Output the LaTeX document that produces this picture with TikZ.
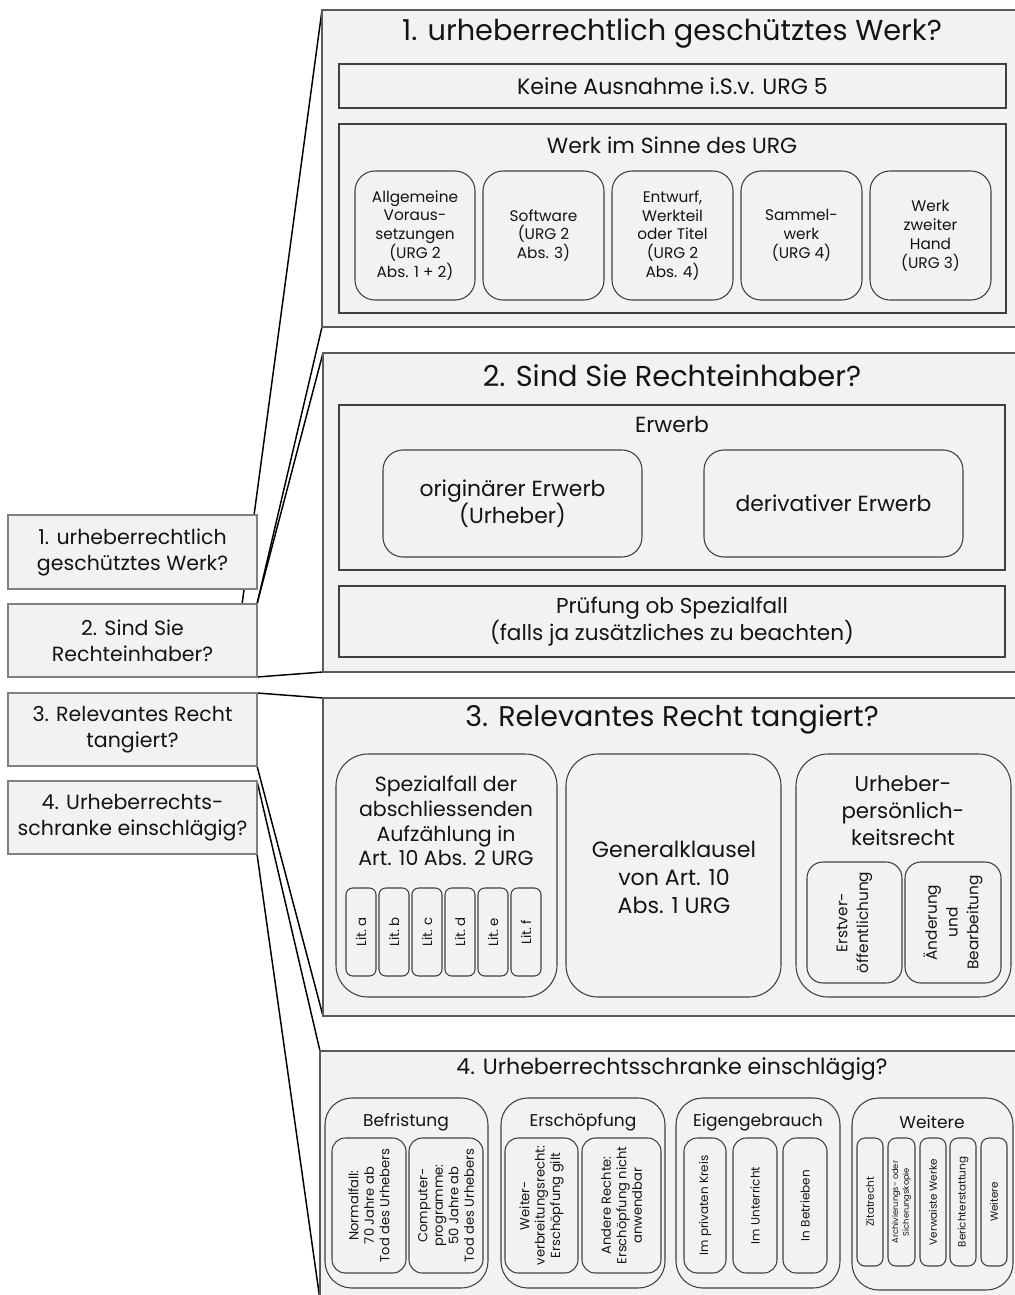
\documentclass[tikz,border=0pt]{standalone}
\usepackage{fontspec}
\setmainfont{Poppins}
\usetikzlibrary{fit,backgrounds}

\definecolor{pfill}{HTML}{F2F2F2}
\definecolor{pborder}{HTML}{5A5A5A}
\definecolor{bborder}{HTML}{404040}
\definecolor{lborder}{HTML}{808080}
\definecolor{tcol}{HTML}{141414}

\newcommand{\fs}[2]{\fontsize{#1}{#2}\selectfont}

\tikzset{
  panel/.style={draw=pborder, fill=pfill, line width=1.1pt, inner sep=0pt, outer sep=0pt},
  sqbox/.style={draw=bborder, line width=0.9pt, inner sep=0pt, outer sep=0pt},
  rbox/.style={draw=bborder, line width=0.8pt, rounded corners=#1, inner sep=0pt, outer sep=0pt},
  rbox/.default=14pt,
  leftbox/.style={draw=lborder, fill=pfill, line width=0.9pt, inner sep=0pt, outer sep=0pt},
  link/.style={draw=black, line width=1.1pt},
  txt/.style={align=center, inner sep=0pt, text=tcol},
  vtxt/.style={txt, rotate=90},
}

\begin{document}
\begin{tikzpicture}[x=0.75pt,y=-0.75pt]
\useasboundingbox (0,0) rectangle (1014,1295);

% ---------- panels ----------
\node[panel, fit={(322,10)(1020,327)}]   (p1) {};
\node[panel, fit={(323,353)(1020,672)}]  (p2) {};
\node[panel, fit={(323,698)(1020,1016)}] (p3) {};
\node[panel, fit={(320,1051)(1020,1300)}] (p4) {};

% ---------- overview boxes on the left ----------
\node[leftbox, fit={(8,515)(257,589)}] (b1) {};
\node[leftbox, fit={(8,604)(257,677)}] (b2) {};
\node[leftbox, fit={(8,693)(257,766)}] (b3) {};
\node[leftbox, fit={(8,781)(257,854)}] (b4) {};
\node[txt, font=\fs{15.4}{19.5}] (b1t) at (b1.center) {1. urheberrechtlich\\geschütztes Werk?};
\node[txt, font=\fs{15.4}{19.5}] (b2t) at (b2.center) {2. Sind Sie\\Rechteinhaber?};
\node[txt, font=\fs{15.4}{19.5}] (b3t) at (b3.center) {3. Relevantes Recht\\tangiert?};
\node[txt, font=\fs{15.4}{19.5}] (b4t) at (b4.center) {4. Urheberrechts-\\schranke einschlägig?};

% ---------- connectors ----------
\coordinate (c1) at (241,612);
\begin{pgfonlayer}{background}
  \fill[white] (0,0) rectangle (1014,1295);
  \draw[link] (p1.north west) -- (c1);
  \draw[link] (p1.south west) -- (b2.north east);
  \draw[link] (p2.north west) -- (b2.north east);
  \draw[link] (p2.south west) -- (b2.south east);
  \draw[link] (b3.north east) -- (p3.north west);
  \draw[link] (b3.south east) -- (p3.south west);
  \draw[link] (b4.north east) -- (p4.north west);
  \draw[link] (b4.south east) -- (p4.south west);
\end{pgfonlayer}

% ---------- panel 1 ----------
\node[txt, font=\fs{21.6}{25}] (t1) at (672,33) {1. urheberrechtlich geschütztes Werk?};
\node[sqbox, fit={(339,64)(1006,108)}] (k1) {};
\node[txt, font=\fs{16.6}{19}] (k1t) at (k1.center) {Keine Ausnahme i.S.v. URG 5};
\node[sqbox, fit={(339,124)(1006,313)}] (w1) {};
\node[txt, font=\fs{16.4}{19}] (w1t) at (672,145) {Werk im Sinne des URG};
\node[rbox=15pt, fit={(355,171)(475,300)}] (r1) {};
\node[rbox=15pt, fit={(483,171)(604,300)}] (r2) {};
\node[rbox=15pt, fit={(612,171)(733,300)}] (r3) {};
\node[rbox=15pt, fit={(741,171)(862,300)}] (r4) {};
\node[rbox=15pt, fit={(870,171)(991,300)}] (r5) {};
\node[txt, font=\fs{11.5}{14.2}] at (r1.center) {Allgemeine\\Voraus-\\setzungen\\(URG 2\\Abs. 1 + 2)};
\node[txt, font=\fs{11.5}{14.2}] at (r2.center) {Software\\(URG 2\\Abs. 3)};
\node[txt, font=\fs{11.5}{14.2}] at (r3.center) {Entwurf,\\Werkteil\\oder Titel\\(URG 2\\Abs. 4)};
\node[txt, font=\fs{11.5}{14.2}] at (r4.center) {Sammel-\\werk\\(URG 4)};
\node[txt, font=\fs{11.5}{14.2}] at (r5.center) {Werk\\zweiter\\Hand\\(URG 3)};

% ---------- panel 2 ----------
\node[txt, font=\fs{21.6}{25}] (t2) at (672,376) {2. Sind Sie Rechteinhaber?};
\node[sqbox, fit={(339,405)(1005,570)}] (e2) {};
\node[txt, font=\fs{16.4}{19}] (e2t) at (672,425) {Erwerb};
\node[rbox=15pt, fit={(383,450)(642,557)}] (o2) {};
\node[rbox=15pt, fit={(704,450)(963,557)}] (d2) {};
\node[txt, font=\fs{16.4}{20}] at (o2.center) {originärer Erwerb\\(Urheber)};
\node[txt, font=\fs{16.4}{20}] at (d2.center) {derivativer Erwerb};
\node[sqbox, fit={(339,586)(1005,657)}] (s2) {};
\node[txt, font=\fs{16.2}{20.5}] at (s2.center) {Prüfung ob Spezialfall\\(falls ja zusätzliches zu beachten)};

% ---------- panel 3 ----------
\node[txt, font=\fs{21.4}{25}] (t3) at (672,719) {3. Relevantes Recht tangiert?};
\node[rbox=24pt, fit={(336,754)(557,997)}] (sp3) {};
\node[txt, font=\fs{15.4}{18.5}] at (446,821) {Spezialfall der\\abschliessenden\\Aufzählung in\\Art. 10 Abs. 2 URG};
\foreach \i/\l in {0/a,1/b,2/c,3/d,4/e,5/f}{
  \node[rbox=5pt, fit={({346+33*\i},888)({376+33*\i},976)}] (lit\l) {};
  \node[vtxt, font=\fs{10}{12}] at (lit\l.center) {Lit.\ \l};
}
\node[rbox=24pt, fit={(566,754)(781,997)}] (g3) {};
\node[txt, font=\fs{16.6}{21}] at (674,877) {Generalklausel\\von Art. 10\\Abs. 1 URG};
\node[rbox=24pt, fit={(796,754)(1011,997)}] (u3) {};
\node[txt, font=\fs{16}{20.2}] at (903,811) {Urheber-\\persönlich-\\keitsrecht};
\node[rbox=12pt, fit={(807,862)(902,983)}] (ev3) {};
\node[rbox=12pt, fit={(905,862)(1001,983)}] (ae3) {};
\node[vtxt, font=\fs{11.5}{15.5}] at (ev3.center) {Erstver-\\öffentlichung};
\node[vtxt, font=\fs{11.5}{15.5}] at (ae3.center) {Änderung\\und\\Bearbeitung};

% ---------- panel 4 ----------
\node[txt, font=\fs{16.6}{19}] (t4) at (672,1069) {4. Urheberrechtsschranke einschlägig?};
\node[rbox=20pt, fit={(325,1098)(488,1288)}] (bf4) {};
\node[txt, font=\fs{12.8}{15}] at (406,1122) {Befristung};
\node[rbox=10pt, fit={(332,1138)(406,1273)}] (nf4) {};
\node[rbox=10pt, fit={(409,1138)(483,1273)}] (cp4) {};
\node[vtxt, font=\fs{9.8}{11.6}] at (nf4.center) {Normalfall:\\70 Jahre ab\\Tod des Urhebers};
\node[vtxt, font=\fs{9.8}{11.6}] at (cp4.center) {Computer-\\programme:\\50 Jahre ab\\Tod des Urhebers};

\node[rbox=20pt, fit={(501,1098)(665,1288)}] (er4) {};
\node[txt, font=\fs{12.8}{15}] at (583,1122) {Erschöpfung};
\node[rbox=10pt, fit={(505,1138)(578,1273)}] (wv4) {};
\node[rbox=10pt, fit={(582,1138)(661,1273)}] (ar4) {};
\node[vtxt, font=\fs{9.8}{11.6}] at (wv4.center) {Weiter-\\verbreitungsrecht:\\Erschöpfung gilt};
\node[vtxt, font=\fs{9.8}{11.6}] at (ar4.center) {Andere Rechte:\\Erschöpfung nicht\\anwendbar};

\node[rbox=20pt, fit={(676,1098)(840,1288)}] (eg4) {};
\node[txt, font=\fs{12.8}{15}] at (758,1122) {Eigengebrauch};
\node[rbox=10pt, fit={(684,1138)(726,1273)}] (pk4) {};
\node[rbox=10pt, fit={(733,1138)(777,1273)}] (iu4) {};
\node[rbox=10pt, fit={(783,1138)(827,1273)}] (ib4) {};
\node[vtxt, font=\fs{9}{10.5}] at (pk4.center) {Im privaten Kreis};
\node[vtxt, font=\fs{9}{10.5}] at (iu4.center) {Im Unterricht};
\node[vtxt, font=\fs{9}{10.5}] at (ib4.center) {In Betrieben};

\node[rbox=20pt, fit={(852,1098)(1013,1290)}] (wt4) {};
\node[txt, font=\fs{12.8}{15}] at (932,1122) {Weitere};
\node[rbox=6pt, fit={(857,1138)(883,1266)}] (zr4) {};
\node[rbox=6pt, fit={(888,1138)(915,1266)}] (ak4) {};
\node[rbox=6pt, fit={(920,1138)(946,1266)}] (vw4) {};
\node[rbox=6pt, fit={(950,1138)(976,1266)}] (be4) {};
\node[rbox=6pt, fit={(981,1138)(1007,1266)}] (we4) {};
\node[vtxt, font=\fs{7.8}{9}] at (zr4.center) {Zitatrecht};
\node[vtxt, font=\fs{6.2}{8}] at (ak4.center) {Archivierungs- oder\\Sicherungskopie};
\node[vtxt, font=\fs{7.8}{9}] at (vw4.center) {Verwaiste Werke};
\node[vtxt, font=\fs{7.8}{9}] at (be4.center) {Berichterstattung};
\node[vtxt, font=\fs{7.8}{9}] at (we4.center) {Weitere};
\end{tikzpicture}
\end{document}
